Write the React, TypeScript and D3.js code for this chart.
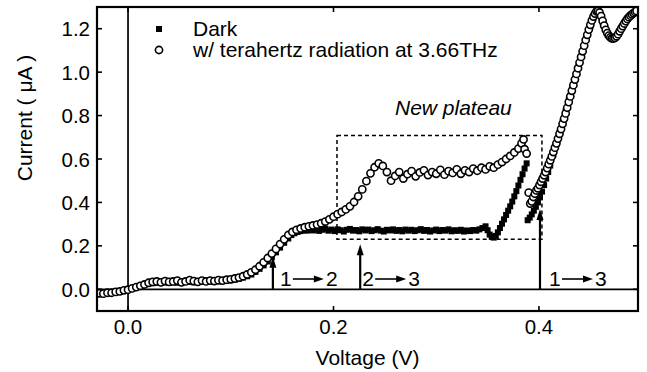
import React from "react";
import * as d3 from "d3";

// ---------- data ----------
const xTicks = [0, 0.2, 0.4];
const yTicks = [0, 0.2, 0.4, 0.6, 0.8, 1.0, 1.2];
const legendLabels = ["Dark", "w/ terahertz radiation at 3.66THz"];
const xLabel = "Voltage (V)";
const yLabel = "Current ( \u03bcA )";
const plateauLabel = "New plateau";

// Dark (filled squares): [voltage V, current µA]
const darkPoints: [number, number][] = [
  [-0.028, -0.024], [-0.024, -0.022], [-0.02, -0.02], [-0.016, -0.017], [-0.012, -0.014],
  [-0.008, -0.01], [-0.004, -0.006], [0.0, -0.002], [0.004, 0.004], [0.008, 0.01],
  [0.012, 0.016], [0.016, 0.022], [0.02, 0.026], [0.024, 0.028], [0.028, 0.03],
  [0.032, 0.03], [0.036, 0.032], [0.04, 0.03], [0.044, 0.032], [0.048, 0.03],
  [0.052, 0.032], [0.056, 0.034], [0.06, 0.034], [0.064, 0.032], [0.068, 0.034],
  [0.072, 0.036], [0.076, 0.034], [0.08, 0.036], [0.084, 0.038], [0.088, 0.036],
  [0.092, 0.038], [0.096, 0.04], [0.1, 0.042], [0.104, 0.044], [0.108, 0.048],
  [0.112, 0.054], [0.116, 0.06], [0.12, 0.068], [0.124, 0.08], [0.128, 0.094],
  [0.132, 0.11], [0.136, 0.128], [0.14, 0.148], [0.144, 0.17], [0.148, 0.192],
  [0.152, 0.214], [0.156, 0.234],
  [0.159, 0.25], [0.162, 0.258], [0.165, 0.264], [0.168, 0.268], [0.171, 0.272],
  [0.174, 0.27], [0.177, 0.275], [0.18, 0.271], [0.183, 0.277], [0.186, 0.269],
  [0.189, 0.274], [0.192, 0.279], [0.195, 0.27], [0.198, 0.275], [0.201, 0.268],
  [0.204, 0.276], [0.207, 0.272], [0.21, 0.266], [0.213, 0.274], [0.216, 0.278],
  [0.219, 0.27], [0.222, 0.273], [0.225, 0.267], [0.228, 0.276], [0.231, 0.271],
  [0.234, 0.275], [0.237, 0.268], [0.24, 0.272], [0.243, 0.277], [0.246, 0.27],
  [0.249, 0.266], [0.252, 0.274], [0.255, 0.271], [0.258, 0.276], [0.261, 0.269],
  [0.264, 0.273], [0.267, 0.267], [0.27, 0.275], [0.273, 0.27], [0.276, 0.274],
  [0.279, 0.268], [0.282, 0.272], [0.285, 0.277], [0.288, 0.269], [0.291, 0.273],
  [0.294, 0.266], [0.297, 0.271], [0.3, 0.275], [0.303, 0.268], [0.306, 0.273],
  [0.309, 0.27], [0.312, 0.276], [0.315, 0.267], [0.318, 0.272], [0.321, 0.269],
  [0.324, 0.274], [0.327, 0.266], [0.33, 0.271], [0.333, 0.268], [0.336, 0.273],
  [0.339, 0.27], [0.342, 0.276], [0.345, 0.282], [0.348, 0.29],
  [0.35, 0.272], [0.352, 0.252], [0.354, 0.242], [0.356, 0.238], [0.358, 0.246],
  [0.36, 0.262], [0.362, 0.282], [0.364, 0.302], [0.366, 0.322], [0.368, 0.342],
  [0.37, 0.362], [0.372, 0.382], [0.374, 0.404], [0.376, 0.428], [0.378, 0.452],
  [0.38, 0.478], [0.382, 0.504], [0.384, 0.53], [0.386, 0.556], [0.388, 0.58],
  [0.389, 0.318], [0.391, 0.33], [0.393, 0.345], [0.395, 0.362], [0.397, 0.38],
  [0.399, 0.4], [0.401, 0.425], [0.403, 0.45], [0.405, 0.48], [0.407, 0.51],
  [0.409, 0.54], [0.411, 0.57], [0.414, 0.62], [0.417, 0.67], [0.42, 0.72],
  [0.423, 0.77], [0.426, 0.82], [0.429, 0.87], [0.432, 0.92], [0.435, 0.97],
  [0.438, 1.02], [0.441, 1.07], [0.444, 1.12], [0.447, 1.17], [0.45, 1.21],
  [0.453, 1.25], [0.456, 1.27], [0.459, 1.265], [0.462, 1.23], [0.465, 1.195],
  [0.468, 1.17], [0.471, 1.16], [0.474, 1.16], [0.477, 1.175], [0.48, 1.2],
  [0.483, 1.225], [0.486, 1.245], [0.489, 1.26], [0.492, 1.27], [0.495, 1.28],
];

// With THz radiation (open circles): [voltage V, current µA]
const thzPoints: [number, number][] = [
  [-0.028, -0.018], [-0.024, -0.02], [-0.02, -0.016], [-0.016, -0.016], [-0.012, -0.012],
  [-0.008, -0.01], [-0.004, -0.005], [0.0, -0.002], [0.004, 0.004], [0.008, 0.01],
  [0.012, 0.016], [0.016, 0.022], [0.02, 0.03], [0.024, 0.034], [0.028, 0.036],
  [0.032, 0.032], [0.036, 0.038], [0.04, 0.034], [0.044, 0.036], [0.048, 0.04],
  [0.052, 0.032], [0.056, 0.036], [0.06, 0.042], [0.064, 0.038], [0.068, 0.034],
  [0.072, 0.04], [0.076, 0.036], [0.08, 0.04], [0.084, 0.038], [0.088, 0.042],
  [0.092, 0.04], [0.096, 0.044], [0.1, 0.046], [0.104, 0.05], [0.108, 0.054],
  [0.112, 0.06], [0.116, 0.068], [0.12, 0.078], [0.124, 0.09], [0.128, 0.106],
  [0.132, 0.124], [0.136, 0.144], [0.14, 0.164], [0.144, 0.186], [0.148, 0.208],
  [0.152, 0.23], [0.156, 0.25], [0.16, 0.264], [0.164, 0.274], [0.168, 0.28],
  [0.172, 0.286], [0.176, 0.29], [0.18, 0.294], [0.184, 0.298], [0.188, 0.304],
  [0.192, 0.312], [0.196, 0.322], [0.2, 0.334], [0.204, 0.346], [0.208, 0.356],
  [0.212, 0.368], [0.216, 0.382], [0.22, 0.402], [0.224, 0.428], [0.228, 0.46],
  [0.232, 0.498], [0.236, 0.534], [0.24, 0.562], [0.244, 0.58], [0.248, 0.568],
  [0.252, 0.54], [0.256, 0.5], [0.26, 0.522], [0.264, 0.54], [0.268, 0.51],
  [0.272, 0.53], [0.276, 0.544], [0.28, 0.52], [0.284, 0.538], [0.288, 0.548],
  [0.292, 0.526], [0.296, 0.54], [0.3, 0.532], [0.304, 0.55], [0.308, 0.528],
  [0.312, 0.544], [0.316, 0.536], [0.32, 0.552], [0.324, 0.532], [0.328, 0.548],
  [0.332, 0.54], [0.336, 0.556], [0.34, 0.546], [0.344, 0.56], [0.348, 0.552],
  [0.352, 0.566], [0.356, 0.56], [0.36, 0.574], [0.364, 0.586], [0.368, 0.6],
  [0.372, 0.614], [0.376, 0.63], [0.38, 0.648], [0.383, 0.672], [0.385, 0.69],
  [0.386, 0.645], [0.388, 0.625],
  [0.39, 0.445], [0.3915, 0.395], [0.393, 0.405], [0.3945, 0.425], [0.396, 0.44],
  [0.3975, 0.455], [0.399, 0.465], [0.4005, 0.48], [0.402, 0.495], [0.4035, 0.51],
  [0.405, 0.525], [0.4065, 0.54], [0.408, 0.558], [0.4095, 0.576], [0.411, 0.594],
  [0.4125, 0.612], [0.414, 0.632], [0.4155, 0.652], [0.417, 0.672], [0.4185, 0.694],
  [0.42, 0.716], [0.4215, 0.738], [0.423, 0.762], [0.4245, 0.786], [0.426, 0.81],
  [0.4275, 0.836], [0.429, 0.862], [0.4305, 0.888], [0.432, 0.914], [0.4335, 0.94],
  [0.435, 0.966], [0.4365, 0.992], [0.438, 1.018], [0.4395, 1.044], [0.441, 1.07],
  [0.4425, 1.096], [0.444, 1.122], [0.4455, 1.148], [0.447, 1.172], [0.4485, 1.196],
  [0.45, 1.218], [0.4515, 1.238], [0.453, 1.256], [0.4545, 1.27], [0.456, 1.28],
  [0.4575, 1.282], [0.459, 1.275], [0.4605, 1.258], [0.462, 1.236], [0.4635, 1.214],
  [0.465, 1.195], [0.4665, 1.18], [0.468, 1.168], [0.4695, 1.16], [0.471, 1.155],
  [0.4725, 1.155], [0.474, 1.158], [0.4755, 1.165], [0.477, 1.175], [0.4785, 1.188],
  [0.48, 1.2], [0.4815, 1.212], [0.483, 1.224], [0.4845, 1.235], [0.486, 1.245],
  [0.4875, 1.253], [0.489, 1.26], [0.4905, 1.266], [0.492, 1.272], [0.4935, 1.277],
  [0.495, 1.282],
];

// transition arrows: voltage, arrow tip current, from-state, to-state
const transitionV = [0.141, 0.226, 0.401];
const transitionTip = [0.15, 0.207, 0.37];
const transitionFrom = ["1", "2", "1"];
const transitionTo = ["2", "3", "3"];

// "new plateau" dashed box (V range, current range)
const boxV = [0.2034, 0.4029];
const boxI = [0.23, 0.708];

// ---------- layout ----------
const W = 647;
const H = 372;
const L = 97, R = 638, T = 7, B = 311;
const FONT = "'Liberation Sans', Arial, Helvetica, sans-serif";
const labelDx = [7, 2, 9];

export default function App() {
  const x = d3.scaleLinear().domain([-0.0302, 0.4964]).range([L, R]);
  const y = d3.scaleLinear().domain([-0.1, 1.3]).range([B, T]);
  const tick = 5;
  const sq = 6;

  return (
    <svg
      width={W}
      height={H}
      viewBox={`0 0 ${W} ${H}`}
      style={{ position: "absolute", left: 0, top: 0, background: "#fff" }}
    >
      <rect x={0} y={0} width={W} height={H} fill="#fff" />
      <defs>
        <clipPath id="plotclip">
          <rect x={L} y={T} width={R - L} height={B - T} />
        </clipPath>
      </defs>

      {/* zero lines */}
      <line x1={L} x2={R} y1={y(0)} y2={y(0)} stroke="#000" strokeWidth={1.7} />
      <line x1={x(0)} x2={x(0)} y1={T} y2={B} stroke="#000" strokeWidth={1.7} />

      {/* dashed box */}
      <rect
        x={x(boxV[0])}
        y={y(boxI[1])}
        width={x(boxV[1]) - x(boxV[0])}
        height={y(boxI[0]) - y(boxI[1])}
        fill="none"
        stroke="#000"
        strokeWidth={1.5}
        strokeDasharray="4,3"
      />

      {/* data */}
      <g clipPath="url(#plotclip)">
        {darkPoints.map((d, i) => (
          <rect
            key={"d" + i}
            x={x(d[0]) - sq / 2}
            y={y(d[1]) - sq / 2}
            width={sq}
            height={sq}
            fill="#000"
          />
        ))}
        {thzPoints.map((d, i) => (
          <circle
            key={"t" + i}
            cx={x(d[0])}
            cy={y(d[1])}
            r={3.6}
            fill="#fff"
            stroke="#000"
            strokeWidth={1.6}
          />
        ))}
      </g>

      {/* transition arrows */}
      {transitionV.map((v, i) => {
        const ax = x(v);
        const tipY = y(transitionTip[i]);
        const x0 = ax + labelDx[i];
        const base = 286;
        const ay = base - 7;
        return (
          <g key={"a" + i}>
            <line x1={ax} x2={ax} y1={y(0)} y2={tipY + 8} stroke="#000" strokeWidth={2.2} />
            <path d={`M${ax},${tipY} L${ax - 3.5},${tipY + 11} L${ax + 3.5},${tipY + 11} Z`} fill="#000" />
            <text x={x0} y={base} fontFamily={FONT} fontSize={21} fill="#000">
              {transitionFrom[i]}
            </text>
            <line x1={x0 + 13} x2={x0 + 36} y1={ay} y2={ay} stroke="#000" strokeWidth={1.6} />
            <path d={`M${x0 + 44},${ay} L${x0 + 34},${ay - 3.5} L${x0 + 34},${ay + 3.5} Z`} fill="#000" />
            <text x={x0 + 46} y={base} fontFamily={FONT} fontSize={21} fill="#000">
              {transitionTo[i]}
            </text>
          </g>
        );
      })}

      {/* plateau label */}
      <text x={395} y={115} fontFamily={FONT} fontSize={21} fontStyle="italic" fill="#000">
        {plateauLabel}
      </text>

      {/* legend */}
      <rect x={159 - 3} y={29 - 3} width={6} height={6} fill="#000" />
      <text x={193} y={36} fontFamily={FONT} fontSize={21} fill="#000">
        {legendLabels[0]}
      </text>
      <circle cx={159} cy={50} r={3.6} fill="#fff" stroke="#000" strokeWidth={1.6} />
      <text x={193} y={57} fontFamily={FONT} fontSize={21} fill="#000">
        {legendLabels[1]}
      </text>

      {/* frame */}
      <rect x={L} y={T} width={R - L} height={B - T} fill="none" stroke="#000" strokeWidth={2.2} />

      {/* ticks */}
      {xTicks.map((t) => (
        <g key={"xt" + t}>
          <line x1={x(t)} x2={x(t)} y1={B} y2={B - tick} stroke="#000" strokeWidth={1.6} />
          <line x1={x(t)} x2={x(t)} y1={T} y2={T + tick} stroke="#000" strokeWidth={1.6} />
          <text x={x(t)} y={334} textAnchor="middle" fontFamily={FONT} fontSize={20.5} fill="#000">
            {t.toFixed(1)}
          </text>
        </g>
      ))}
      {yTicks.map((t) => (
        <g key={"yt" + t}>
          <line x1={L} x2={L + tick} y1={y(t)} y2={y(t)} stroke="#000" strokeWidth={1.6} />
          <line x1={R} x2={R - tick} y1={y(t)} y2={y(t)} stroke="#000" strokeWidth={1.6} />
          <text x={90} y={y(t) + 7.5} textAnchor="end" fontFamily={FONT} fontSize={20.5} fill="#000">
            {t.toFixed(1)}
          </text>
        </g>
      ))}

      {/* axis titles */}
      <text x={(L + R) / 2} y={365} textAnchor="middle" fontFamily={FONT} fontSize={21} fill="#000">
        {xLabel}
      </text>
      <text
        transform={`translate(32,118) rotate(-90)`}
        textAnchor="middle"
        fontFamily={FONT}
        fontSize={21}
        fill="#000"
      >
        {yLabel}
      </text>
    </svg>
  );
}
